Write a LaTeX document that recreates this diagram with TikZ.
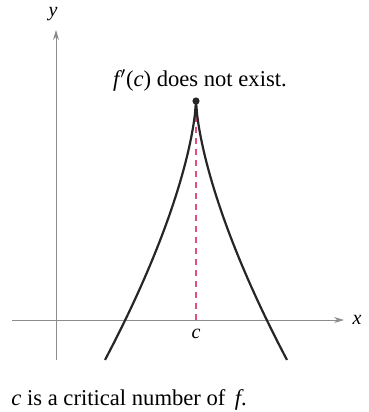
\documentclass[tikz,border=0pt]{standalone}
\usepackage{fontspec}
\setmainfont{LiberationSerif-Regular.ttf}[ItalicFont=LiberationSerif-Italic.ttf]
\usetikzlibrary{arrows.meta,positioning}
\definecolor{cAx}{HTML}{8c8c8c}
\definecolor{cDash}{HTML}{e0507a}
\definecolor{cInk}{HTML}{262626}
\tikzset{
  axis/.style={cAx,line width=0.5pt,-{Stealth[length=5pt,width=3pt]}},
  cusp/.style={cInk,line width=1.1pt},
  guide/.style={cDash,line width=0.8pt,dash pattern=on 3pt off 2.5pt},
  lbl/.style={font=\itshape,inner sep=1pt},
  dot/.style={circle,fill=cInk,inner sep=0pt,minimum size=3.6pt},
}

\begin{document}
\begin{tikzpicture}[x=0.5pt,y=-0.5pt,font=\fontsize{11.3}{13}\selectfont]
  \useasboundingbox (0,0) rectangle (369,412);
  % axes
  \coordinate (xl) at (12,320);
  \coordinate (xr) at (344,320);
  \coordinate (yb) at (56,360);
  \coordinate (yt) at (56,30);
  \draw[axis] (xl) -- (xr);
  \draw[axis] (yb) -- (yt);
  \node[lbl] (xlab) at (357,320) {x};
  \node[lbl] (ylab) at (53,14) {y};
  % the cusp at c
  \node[dot] (peak) at (196,101) {};
  \coordinate (c) at (196,320);
  \draw[guide] (peak) -- (c);
  \draw[cusp] plot[domain=0.001:91,samples=80] ({196-\x},{101+12.8*\x^(2/3)});
  \draw[cusp] plot[domain=0.001:91,samples=80] ({196+\x},{101+12.8*\x^(2/3)});
  \node[lbl] (clab) at (196,334) {c};
  \node (note) at (200,80) {\textit{f\kern0.5pt}$'$(\textit{c}) does not exist.};
  \node[anchor=west,inner sep=0pt] (caption) at (11,400) {\textit{c} is a critical number of \,\textit{f}.};
\end{tikzpicture}
\end{document}
